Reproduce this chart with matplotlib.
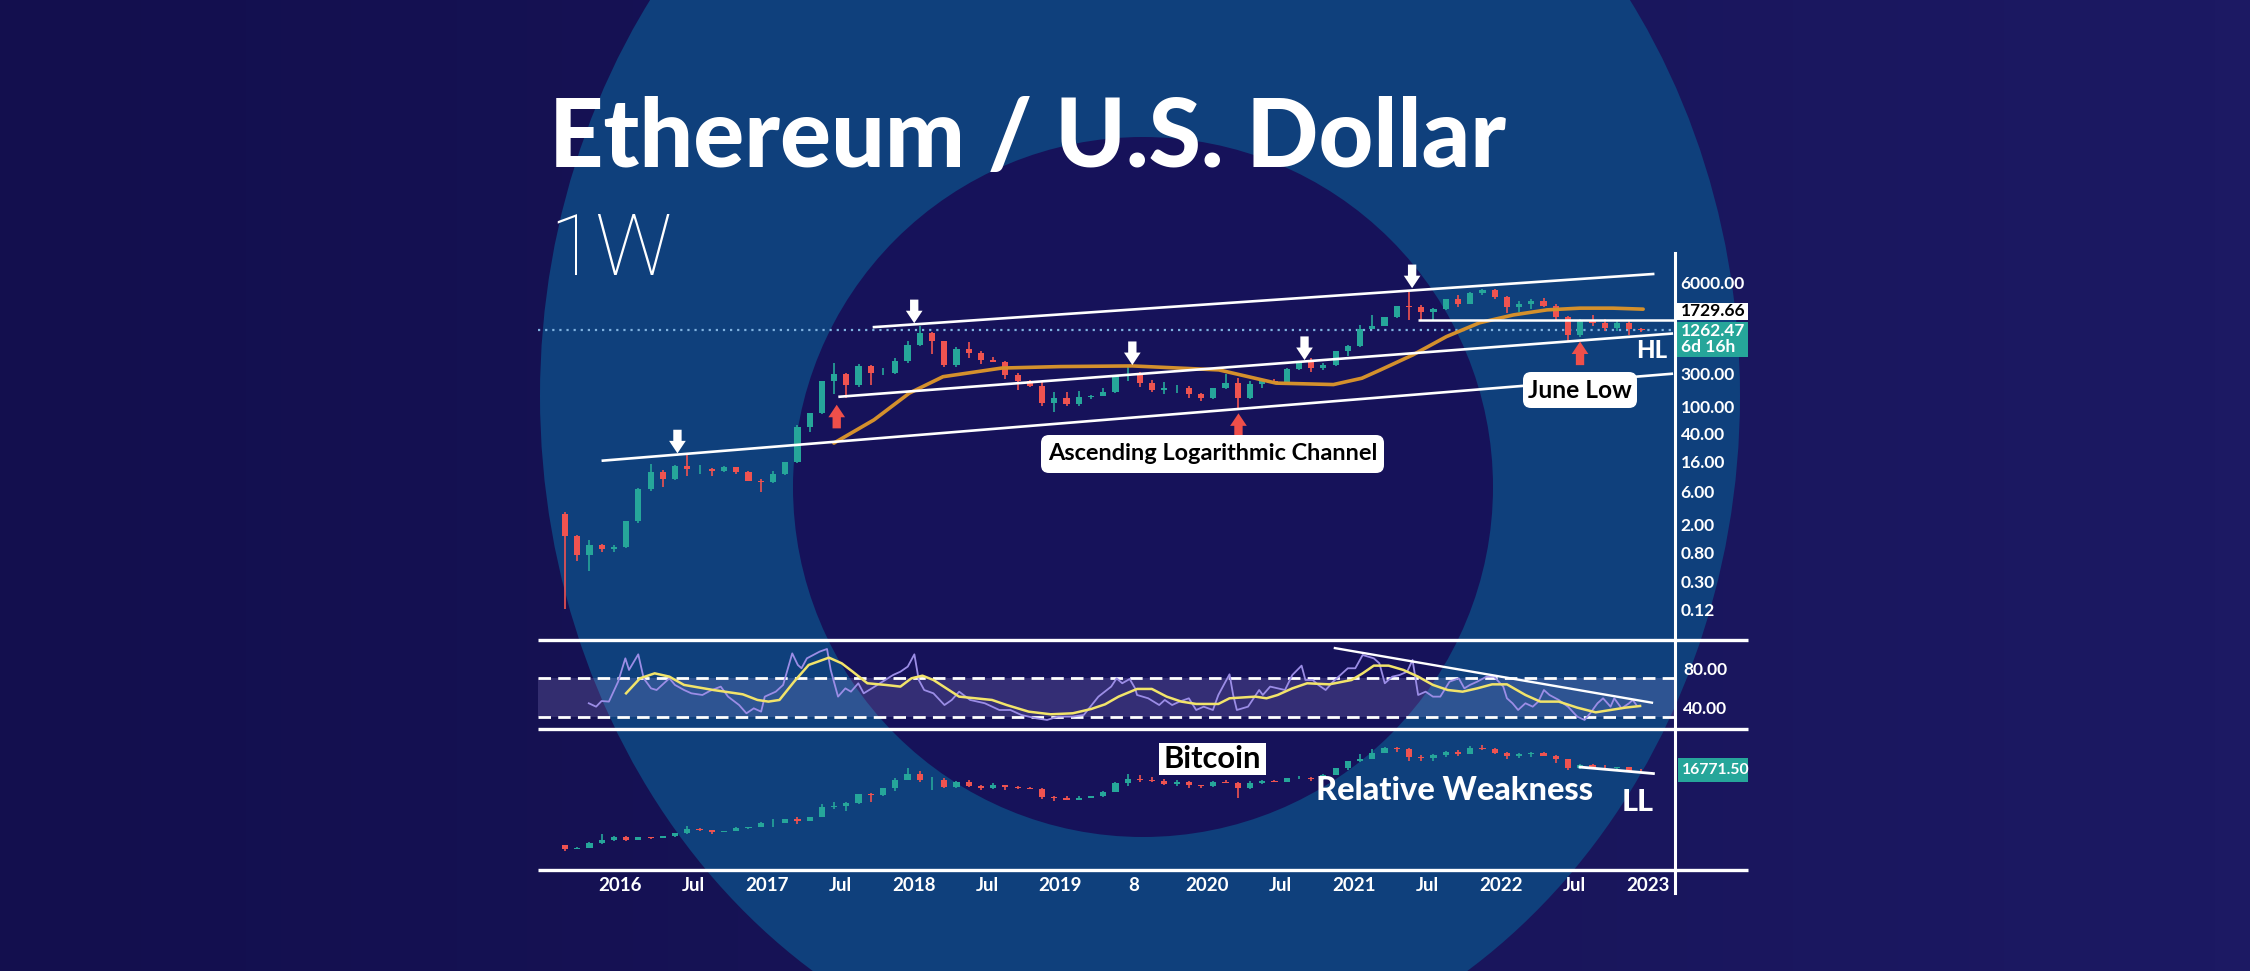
import numpy as np
import pandas as pd
import matplotlib
matplotlib.use("Agg")
import matplotlib.pyplot as plt
from matplotlib.patches import Ellipse, Circle, Rectangle, FancyBboxPatch
from matplotlib.colors import LinearSegmentedColormap
from matplotlib.ticker import NullLocator

W, H = 2250, 971

# ---------------- data ----------------
months = pd.date_range("2015-08-01", "2022-12-01", freq="MS")
month_x = np.asarray(months.year + (months.month - 0.5) / 12)

# ETH/USD monthly candles
eth_open = [2.8, 1.35, 0.73, 1.0, 0.87,
            0.93, 2.2, 6.4, 11.4, 8.9, 14.0, 12.4, 12.7, 11.8, 13.2, 11.4, 8.5,
            8.0, 10.7, 15.8, 50, 79, 230, 290, 200, 385, 300, 305, 445,
            755, 1120, 855, 395, 670, 575, 455, 435, 280, 232, 198, 113,
            133, 107, 136, 141, 160, 268, 290, 218, 172, 180, 183, 152,
            130, 180, 218, 133, 207, 231, 226, 345, 434, 360, 386, 617,
            737, 1312, 1420, 1918, 2773, 2706, 2275, 2536, 3430, 3000, 4290, 4630,
            3680, 2690, 2920, 3280, 2730, 1940, 1070, 1680, 1550, 1330, 1570, 1295]
eth_high = [3.0, 1.40, 1.20, 1.05, 1.0,
            2.25, 6.7, 15.0, 12.0, 14.5, 21.5, 14.5, 13.0, 14.0, 13.3, 11.8, 8.9,
            11.6, 15.9, 53, 80, 232, 420, 300, 400, 390, 350, 500, 860,
            1420, 1160, 880, 700, 835, 620, 515, 440, 300, 236, 225, 160,
            160, 165, 145, 185, 285, 365, 315, 238, 225, 200, 195, 153,
            185, 288, 253, 227, 245, 250, 350, 445, 488, 420, 620, 755,
            1475, 2040, 1945, 2800, 4380, 2890, 2580, 3470, 4030, 4460, 4890, 4780,
            3880, 3280, 3480, 3580, 2970, 1970, 1780, 2030, 1790, 1660, 1680, 1350]
eth_low = [0.12, 0.60, 0.42, 0.80, 0.80,
           0.90, 2.1, 6.0, 6.9, 8.8, 10.0, 10.5, 9.8, 11.3, 10.6, 8.4, 5.9,
           7.9, 10.3, 15.5, 42, 77, 150, 130, 190, 200, 280, 290, 420,
           740, 570, 370, 365, 500, 410, 430, 250, 170, 190, 100, 82,
           100, 102, 125, 140, 155, 230, 190, 160, 152, 155, 133, 117,
           127, 175, 90, 125, 180, 215, 222, 335, 308, 336, 376, 530,
           715, 1290, 1410, 1880, 1730, 1700, 1720, 2440, 2650, 2970, 3950, 3500,
           2160, 2300, 2510, 2700, 1700, 880, 1000, 1420, 1220, 1190, 1070, 1160]
eth_close = [1.35, 0.73, 1.0, 0.87, 0.93,
             2.2, 6.4, 11.4, 8.9, 14.0, 12.4, 12.7, 11.8, 13.2, 11.4, 8.5, 8.0,
             10.7, 15.8, 50, 79, 230, 290, 200, 385, 300, 305, 445, 755,
             1120, 855, 395, 670, 575, 455, 435, 280, 232, 198, 113, 133,
             107, 136, 141, 160, 268, 290, 218, 172, 180, 183, 152, 130,
             180, 218, 133, 207, 231, 226, 345, 434, 360, 386, 617, 737,
             1312, 1420, 1918, 2773, 2706, 2275, 2536, 3430, 3000, 4290, 4630, 3680,
             2690, 2920, 3280, 2730, 1940, 1070, 1680, 1550, 1330, 1570, 1295, 1262.47]

# BTC/USD monthly candles
btc_open = [283, 230, 236, 314, 378,
            430, 368, 437, 416, 448, 531, 673, 624, 573, 608, 700, 745,
            964, 970, 1190, 1080, 1350, 2300, 2480, 2875, 4700, 4340, 6470, 10200,
            14150, 10220, 10330, 6930, 9240, 7500, 6400, 7730, 7030, 6630, 6370, 4040,
            3740, 3460, 3850, 4100, 5330, 8560, 10820, 10080, 9600, 8290, 9200, 7570,
            7200, 9350, 8550, 6430, 8630, 9450, 9140, 11350, 11650, 10780, 13800, 19700,
            28990, 33100, 45200, 58800, 57700, 37300, 35000, 41460, 47100, 43800, 61300, 57000,
            46300, 38500, 43200, 45500, 37700, 31800, 19900, 23300, 20050, 19420, 20490, 17170]
btc_high = [285, 245, 330, 500, 470,
            462, 445, 440, 470, 550, 780, 700, 630, 610, 740, 750, 980,
            1160, 1200, 1290, 1350, 2770, 3000, 2950, 4760, 5000, 6500, 11500, 19800,
            17200, 11800, 11700, 9750, 10000, 7780, 8500, 7760, 7420, 6750, 6580, 4250,
            4120, 4200, 4120, 5630, 9000, 13880, 13200, 12300, 10950, 10400, 9500, 7750,
            9600, 10500, 9190, 9470, 10070, 10400, 11450, 12470, 12070, 14100, 19900, 29300,
            41950, 58300, 61800, 64900, 59500, 41300, 42400, 50500, 52900, 67000, 69000, 59000,
            48000, 45800, 48200, 47400, 40000, 31900, 24650, 25200, 22800, 20950, 21450, 18400]
btc_low = [198, 225, 236, 300, 350,
           350, 365, 400, 412, 440, 525, 600, 510, 570, 605, 680, 745,
           755, 920, 890, 1070, 1350, 2100, 1830, 2700, 2950, 4200, 5500, 10000,
           9000, 5900, 6600, 6430, 7000, 5760, 6100, 5880, 6100, 6200, 3560, 3150,
           3380, 3400, 3730, 4080, 5330, 7450, 9000, 9350, 7720, 7320, 6520, 6430,
           6870, 8450, 3850, 6200, 8100, 8900, 8900, 10900, 9880, 10400, 13200, 17600,
           28100, 32300, 45000, 47000, 30000, 28800, 29300, 37300, 39600, 43300, 53300, 42000,
           33000, 34300, 37200, 37600, 26700, 17600, 18800, 19600, 18200, 18200, 15500, 16350]
btc_close = [230, 236, 314, 378, 430,
             368, 437, 416, 448, 531, 673, 624, 573, 608, 700, 745, 964,
             970, 1190, 1080, 1350, 2300, 2480, 2875, 4700, 4340, 6470, 10200, 14150,
             10220, 10330, 6930, 9240, 7500, 6400, 7730, 7030, 6630, 6370, 4040, 3740,
             3460, 3850, 4100, 5330, 8560, 10820, 10080, 9600, 8290, 9200, 7570, 7200,
             9350, 8550, 6430, 8630, 9450, 9140, 11350, 11650, 10780, 13800, 19700, 28990,
             33100, 45200, 58800, 57700, 37300, 35000, 41460, 47100, 43800, 61300, 57000, 46300,
             38500, 43200, 45500, 37700, 31800, 19900, 23300, 20050, 19420, 20490, 17170, 16771.5]

# moving average on the price panel (orange)
ma_t = [2017.457, 2017.73, 2017.97, 2018.2, 2018.6, 2019.0, 2019.49, 2020.08, 2020.28,
        2020.47, 2020.86, 2021.054, 2021.18, 2021.40, 2021.63, 2021.855, 2022.087,
        2022.315, 2022.54, 2022.765, 2022.97]
ma_p = [29.5, 63.7, 154, 266, 354, 372, 380, 333, 266,
        215, 205, 253, 333, 546, 1004, 1585, 2060,
        2433, 2575, 2575, 2490]

# RSI (purple) and its average (yellow)
rsi_t = [2015.787, 2015.837, 2015.874, 2015.924, 2015.987, 2016.036, 2016.061, 2016.124, 2016.161, 2016.211,
         2016.249, 2016.299, 2016.336, 2016.374, 2016.436, 2016.486, 2016.561, 2016.611, 2016.686, 2016.736,
         2016.811, 2016.861, 2016.911, 2016.961, 2016.986, 2017.061, 2017.111, 2017.173, 2017.211, 2017.236,
         2017.273, 2017.360, 2017.410, 2017.435, 2017.485, 2017.535, 2017.573, 2017.623, 2017.660, 2017.735,
         2017.860, 2017.910, 2017.960, 2018.005, 2018.035, 2018.072, 2018.135, 2018.210, 2018.260, 2018.310,
         2018.385, 2018.485, 2018.584, 2018.659, 2018.734, 2018.834, 2018.909, 2018.984, 2019.084, 2019.159,
         2019.259,
         2019.346, 2019.383, 2019.421, 2019.472, 2019.509, 2019.522, 2019.598, 2019.673, 2019.711, 2019.761,
         2019.812, 2019.875, 2019.925, 2019.976, 2020.039, 2020.076, 2020.152, 2020.177, 2020.202, 2020.278,
         2020.354, 2020.379, 2020.429, 2020.530, 2020.580, 2020.643, 2020.669, 2020.719, 2020.757, 2020.807,
         2020.858, 2020.908, 2020.958, 2021.009, 2021.059, 2021.135, 2021.173, 2021.210, 2021.261, 2021.311,
         2021.362, 2021.399, 2021.437, 2021.488, 2021.538, 2021.588, 2021.651, 2021.714, 2021.752, 2021.790,
         2021.840, 2021.903, 2021.954, 2022.017, 2022.042, 2022.080, 2022.118, 2022.168, 2022.218, 2022.256,
         2022.294, 2022.332, 2022.395, 2022.458, 2022.521, 2022.571, 2022.609, 2022.659, 2022.697, 2022.748,
         2022.773, 2022.823, 2022.874, 2022.899, 2022.924]
rsi_v = [44.4, 40.9, 46.7, 46.1, 66.6, 90.5, 78.6, 94.6, 70.0, 59.7,
         58.0, 64.9, 70.0, 63.2, 58.0, 54.6, 52.9, 57.0, 61.5, 51.2,
         42.6, 34.1, 39.2, 35.8, 51.2, 56.3, 63.2, 95.6, 83.7, 80.3,
         90.5, 97.4, 100.1, 78.6, 51.2, 59.7, 56.3, 64.9, 54.6, 61.5,
         73.4, 76.8, 82.0, 94.6, 68.3, 58.0, 54.6, 42.6, 47.8, 56.3,
         47.8, 44.4, 37.5, 37.5, 32.4, 29.0, 27.3, 30.7, 30.7, 32.4,
         51.2,
         61.5, 70.0, 64.9, 69.3, 59.7, 52.9, 49.5, 42.6, 47.8, 42.6,
         46.1, 49.5, 37.5, 40.9, 37.5, 52.9, 74.1, 52.9, 37.5, 40.9,
         58.0, 52.9, 61.5, 58.0, 73.4, 83.0, 68.3, 68.3, 63.2, 58.0,
         66.6, 73.4, 80.3, 80.3, 93.9, 90.5, 85.4, 64.9, 71.7, 73.4,
         76.8, 88.8, 52.9, 56.3, 51.2, 51.2, 66.6, 70.0, 59.7, 63.2,
         66.6, 71.7, 71.7, 61.5, 49.5, 44.4, 37.5, 44.4, 40.9, 46.1,
         58.0, 52.9, 47.8, 40.9, 30.7, 27.3, 34.1, 44.4, 49.5, 40.9,
         49.5, 39.2, 44.4, 47.8, 42.6]
rsi_ma_t = [2016.041, 2016.136, 2016.236, 2016.336, 2016.436, 2016.636, 2016.836, 2016.936, 2017.011, 2017.086,
            2017.186, 2017.285, 2017.423, 2017.510, 2017.585, 2017.685, 2017.810, 2017.910, 2017.985, 2018.060,
            2018.135, 2018.310, 2018.534, 2018.634, 2018.784, 2018.934, 2019.084, 2019.209, 2019.304,
            2019.396, 2019.522, 2019.623, 2019.724, 2019.824, 2019.925, 2020.076, 2020.152, 2020.328, 2020.404,
            2020.480, 2020.580, 2020.681, 2020.832, 2020.984, 2021.059, 2021.135, 2021.236, 2021.336, 2021.437,
            2021.538, 2021.639, 2021.740, 2021.840, 2021.941, 2022.042, 2022.168, 2022.269, 2022.395, 2022.521,
            2022.647, 2022.748, 2022.848, 2022.949]
rsi_ma_v = [54.6, 70.0, 75.1, 71.7, 63.2, 58.0, 53.6, 47.8, 46.1, 47.8,
            66.6, 83.7, 91.2, 85.4, 76.8, 64.9, 63.2, 61.5, 70.0, 72.7,
            68.3, 51.2, 47.8, 42.6, 35.8, 33.1, 34.1, 38.5, 43.3,
            51.2, 59.1, 59.1, 51.2, 46.1, 43.7, 43.7, 49.5, 51.2, 49.5,
            52.9, 59.7, 64.9, 63.8, 68.3, 75.1, 83.0, 83.0, 78.6, 71.7,
            63.2, 58.0, 56.3, 59.7, 63.8, 63.8, 52.9, 46.1, 46.1, 39.9,
            35.1, 37.5, 39.9, 41.6]

# drawn trend lines  (start/end in years, values)
channel_t = [(2015.883, 2023.165), (2017.496, 2023.165), (2017.730, 2023.038)]
channel_p = [(16.5, 293), (137, 1109), (1374, 7980)]
level_t, level_p = 2021.435, 1729.66
last_price = 1262.47
rsi_trend_t, rsi_trend_v = (2020.87, 2023.03), (101, 45)
btc_trend_t, btc_trend_p = (2022.54, 2023.04), (20900, 14600)

# arrows: white = tops, red = bottoms
top_t = [2016.391, 2018.004, 2019.490, 2020.663, 2021.396]
top_p = [21.0, 1563, 391, 462, 4990]
bottom_t = [2017.476, 2020.213, 2022.540]
bottom_p = [105, 79, 853]

price_ticks = [6000, 300, 100, 40, 16, 6, 2, 0.8, 0.3, 0.12]
rsi_ticks = [80, 40]
x_ticks = [2016, 2016.5, 2017, 2017.5, 2018, 2018.5, 2019, 2019.5, 2020, 2020.5,
           2021, 2021.5, 2022, 2022.5, 2023]
x_labels = ["2016", "Jul", "2017", "Jul", "2018", "Jul", "2019", "8", "2020", "Jul",
            "2021", "Jul", "2022", "Jul", "2023"]

UP, DOWN = "#26a69a", "#ef5350"
GREEN_TAG = "#26a69a"
FONT = "Lato"

# ---------------- figure ----------------
fig = plt.figure(figsize=(W / 100, H / 100), dpi=100)


def frac(x0, y0, x1, y1):
    return [x0 / W, 1 - y1 / H, (x1 - x0) / W, (y1 - y0) / H]


bg = fig.add_axes([0, 0, 1, 1], zorder=0)
bg.set_xlim(0, W)
bg.set_ylim(H, 0)
bg.axis("off")
grad = LinearSegmentedColormap.from_list("bg", ["#130f4e", "#1c1963"])
bg.imshow(np.linspace(0, 1, 64)[None, :], cmap=grad, extent=(0, W, H, 0), aspect="auto")
bg.add_patch(Ellipse((1140, 396), 2 * 600, 2 * 686, color="#0f407c", lw=0))
bg.add_patch(Circle((1143, 487), 350, color="#16125a", lw=0))

X0, X1 = 2015.441, 2023.187
ax = fig.add_axes(frac(538, 253, 1675, 640), zorder=2)
ax_rsi = fig.add_axes(frac(538, 640, 1675, 729), zorder=2, sharex=ax)
ax_btc = fig.add_axes(frac(538, 729, 1675, 870), zorder=2, sharex=ax)
for a in (ax, ax_rsi, ax_btc):
    a.patch.set_alpha(0)
    for s in a.spines.values():
        s.set_visible(False)
    a.tick_params(length=0, colors="white")


def candles(a, o, h, l, c, width=0.042):
    o, h, l, c = map(np.asarray, (o, h, l, c))
    col = np.where(c >= o, UP, DOWN)
    a.vlines(month_x, l, h, colors=col, lw=1.2, zorder=3)
    a.bar(month_x, np.abs(c - o), bottom=np.minimum(o, c), width=width,
          color=col, zorder=3, lw=0)


# price panel
ax.set_yscale("log")
ax.set_xlim(X0, X1)
ax.set_ylim(0.0434, 16000)
candles(ax, eth_open, eth_high, eth_low, eth_close)
ax.plot(ma_t, ma_p, color="#d4902c", lw=2.6, zorder=4, solid_capstyle="round")
for (t0, t1), (p0, p1) in zip(channel_t, channel_p):
    ax.plot([t0, t1], [p0, p1], color="white", lw=1.9, zorder=5)
ax.hlines(level_p, level_t, X1, color="white", lw=1.8, zorder=5)
ax.axhline(last_price, color="#7fb2e0", lw=1.6, ls=(0, (1, 2.2)), zorder=2)
ax.yaxis.tick_right()
ax.set_yticks(price_ticks)
ax.set_yticklabels([f"{v:.2f}" for v in price_ticks])
ax.yaxis.set_minor_locator(NullLocator())
ax.tick_params(axis="y", labelsize=12.5, pad=4)
ax.tick_params(axis="x", labelbottom=False)

arrow_style = "simple,head_length=9,head_width=12,tail_width=6"
for t, p in zip(top_t, top_p):
    ax.annotate("", xy=(t, p), xytext=(0, 17), textcoords="offset points",
                arrowprops=dict(arrowstyle=arrow_style, mutation_scale=1, color="white",
                                shrinkA=0, shrinkB=0, lw=0), zorder=6)
for t, p in zip(bottom_t, bottom_p):
    ax.annotate("", xy=(t, p), xytext=(0, -17), textcoords="offset points",
                arrowprops=dict(arrowstyle=arrow_style, mutation_scale=1, color="#ef4f4a",
                                shrinkA=0, shrinkB=0, lw=0), zorder=6)

# RSI panel
ax_rsi.set_ylim(18, 109.3)
ax_rsi.axhspan(30, 70, color="#c9bbff", alpha=0.17, lw=0, zorder=1)
for lvl in (70, 30):
    ax_rsi.axhline(lvl, color="white", lw=2, dashes=(4.5, 2.6), zorder=2)
ax_rsi.plot(rsi_t, rsi_v, color="#9b8de6", lw=1.3, zorder=3)
ax_rsi.plot(rsi_ma_t, rsi_ma_v, color="#f2e46a", lw=1.8, zorder=4)
ax_rsi.plot(rsi_trend_t, rsi_trend_v, color="white", lw=1.7, zorder=5)
ax_rsi.yaxis.tick_right()
ax_rsi.set_yticks(rsi_ticks)
ax_rsi.set_yticklabels([f"{v:.2f}" for v in rsi_ticks])
ax_rsi.tick_params(axis="y", labelsize=12.5, pad=6)
ax_rsi.tick_params(axis="x", labelbottom=False)

# bitcoin panel
ax_btc.set_yscale("log")
ax_btc.set_ylim(70, 172000)
candles(ax_btc, btc_open, btc_high, btc_low, btc_close)
ax_btc.plot(btc_trend_t, btc_trend_p, color="white", lw=2, zorder=5)
ax_btc.set_yticks([])
ax_btc.yaxis.set_minor_locator(NullLocator())
ax_btc.set_xticks(x_ticks)
ax_btc.set_xticklabels(x_labels)
ax_btc.tick_params(axis="x", labelsize=13.5, pad=5)
ax_btc.set_xlim(X0, X1)

for a in (ax, ax_rsi, ax_btc):
    for lbl in a.get_xticklabels() + a.get_yticklabels():
        lbl.set_fontweight("bold")
        lbl.set_family(FONT)

# ---------------- overlay (frame lines, tags, titles) ----------------
ov = fig.add_axes([0, 0, 1, 1], zorder=5)
ov.set_xlim(0, W)
ov.set_ylim(H, 0)
ov.axis("off")
ov.patch.set_alpha(0)

for y in (640, 729, 870):
    ov.plot([538, 1748], [y, y], color="white", lw=2.4, solid_capstyle="butt")
ov.plot([1675, 1675], [253, 893], color="white", lw=2.2)

ov.add_patch(Rectangle((1675, 303), 73, 17, color="white", lw=0))
ov.text(1681, 311.5, "1729.66", color="black", fontsize=12.5, weight="bold",
        family=FONT, va="center")
ov.add_patch(Rectangle((1675, 322), 73, 35, color=GREEN_TAG, lw=0))
ov.text(1681, 331, "1262.47", color="white", fontsize=12.5, weight="bold",
        family=FONT, va="center")
ov.text(1681, 347, "6d 16h", color="white", fontsize=12.5, weight="bold",
        family=FONT, va="center")
ov.add_patch(Rectangle((1678, 758), 70, 24, color=GREEN_TAG, lw=0))
ov.text(1682, 770, "16771.50", color="white", fontsize=11.3, weight="bold",
        family=FONT, va="center")

fig.canvas.draw()
rend = fig.canvas.get_renderer()


def fit(txt, width):
    w = txt.get_window_extent(rend).width
    txt.set_fontsize(txt.get_fontsize() * width / w)
    return txt


title = ov.text(549, 167, "Ethereum / U.S. Dollar", color="white", fontsize=60,
                weight="black", family=FONT, va="baseline")
fit(title, 957)
tf = ov.text(549, 275, "1W", color="white", fontsize=60, weight="light",
             family="Roboto", va="baseline")
fit(tf, 123)

ov.add_patch(FancyBboxPatch((1041, 435), 343, 38, boxstyle="round,pad=0,rounding_size=8",
                            color="white", lw=0))
fit(ov.text(1212.5, 454, "Ascending Logarithmic Channel", color="black", fontsize=16,
            weight="bold", family=FONT, ha="center", va="center"), 330)
ov.add_patch(FancyBboxPatch((1523, 372), 114, 36, boxstyle="round,pad=0,rounding_size=8",
                            color="white", lw=0))
fit(ov.text(1580, 390, "June Low", color="black", fontsize=16, weight="bold",
            family=FONT, ha="center", va="center"), 104)
ov.add_patch(Rectangle((1159, 743), 107, 32, color="white", lw=0))
fit(ov.text(1212.5, 759, "Bitcoin", color="black", fontsize=16, weight="bold",
            family=FONT, ha="center", va="center"), 98)
fit(ov.text(1455, 790, "Relative Weakness", color="white", fontsize=20, weight="black",
            family=FONT, ha="center", va="center"), 277)
fit(ov.text(1652, 351, "HL", color="white", fontsize=20, weight="black",
            family=FONT, ha="center", va="center"), 31)
fit(ov.text(1638, 802, "LL", color="white", fontsize=20, weight="black",
            family=FONT, ha="center", va="center"), 32)

fig.savefig("out.png", dpi=100)
